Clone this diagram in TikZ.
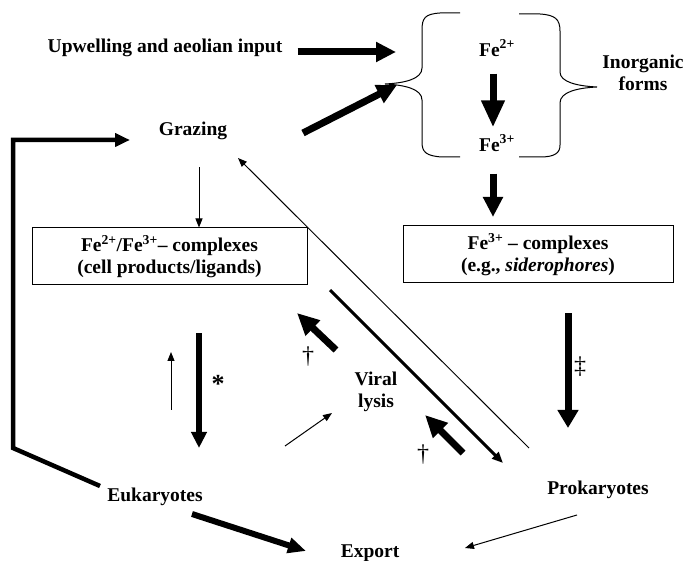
\documentclass[tikz,border=0pt]{standalone}
\usepackage{fontspec}
\setmainfont{Liberation Serif}
\usepackage{tikz}
\usetikzlibrary{arrows.meta}
\usetikzlibrary{positioning}
\tikzstyle{term} = [font={\fontsize{19.5}{21.5}\selectfont\bfseries}, align=center, inner sep=0pt]
\tikzstyle{pool} = [term, draw, line width=1pt, minimum height=57pt]
\tikzstyle{sign} = [font={\fontsize{24}{24}\selectfont}, inner sep=0pt]
\tikzstyle{flux} = [line width=7pt, -{Triangle[length=20pt,width=19pt]}]
\tikzstyle{trickle} = [line width=1pt, -{Triangle[length=9pt,width=7pt]}]
\tikzstyle{lysisline} = [line width=3pt, -{Triangle[length=11pt,width=9pt]}]
\tikzstyle{loopback} = [line width=4.5pt, -{Triangle[length=15pt,width=13pt]}]
\tikzstyle{brace} = [line width=1pt]

\begin{document}
\begin{tikzpicture}[x=1pt, y=-1pt]
        \useasboundingbox (0,0) rectangle (686,561);
        \node [term] (upwelling) at (165,48) {Upwelling and aeolian input};
        \node [term] (fe2) at (497,48) {Fe\textsuperscript{2+}};
        \node [term] (fe3) at (497,143) {Fe\textsuperscript{3+}};
        \node [term] (inorganic) at (643,73) {Inorganic\\forms};
        \node [term] (grazing) at (193,131) {Grazing};
        \node [pool, minimum width=275pt] (cellcx) at (169.5,256.5) {Fe\textsuperscript{2+}/Fe\textsuperscript{3+}– complexes\\(cell products/ligands)};
        \node [pool, minimum width=270pt] (sidero) at (538,254.5) {Fe\textsuperscript{3+} – complexes\\(e.g., \textit{siderophores})};
        \node [term] (viral) at (376,392) {Viral\\lysis};
        \node [term] (euk) at (155,497) {Eukaryotes};
        \node [term] (prok) at (598,490) {Prokaryotes};
        \node [term] (export) at (370,553) {Export};
        \node [sign] (dbl) at (580,367) {\textdaggerdbl};
        \node [sign] (dagA) at (308,357) {\textdagger};
        \node [sign] (dagB) at (423,455) {\textdagger};
        \node [font={\fontsize{26}{26}\selectfont\bfseries}, inner sep=0pt] (star) at (218,384) {*};
        \coordinate (inflow) at (396,52);
        \coordinate (grazeout) at (303,133);
        \coordinate (grazein) at (397,85);
        \coordinate (pooltop) at (493,217);
        \coordinate (prokin) at (568,428);
        \coordinate (eukin) at (199,448);
        \coordinate (upfoot) at (171,410);
        \coordinate (uptip) at (171,352);
        \coordinate (lysisout) at (336,350);
        \coordinate (lysisin) at (297,313);
        \coordinate (prokout) at (463,453);
        \coordinate (prokup) at (425,415);
        \coordinate (lysistop) at (330,290);
        \coordinate (lysisend) at (503,463);
        \coordinate (backfoot) at (529,448);
        \coordinate (backtip) at (238,158);
        \coordinate (eukfoot) at (285,446);
        \coordinate (viralin) at (332,413);
        \coordinate (eukout) at (192,514);
        \coordinate (exportin) at (306,551);
        \coordinate (prokfoot) at (577,515);
        \coordinate (exportright) at (465,548);
        \coordinate (eukcorner) at (100,486);
        \coordinate (grazein2) at (130,140);
        \draw [brace]
            (460,13) -- (440,13) .. controls (425,14) and (422,18) .. (422,30)
            -- (422,68) .. controls (422,79) and (405,83) .. (385,84)
            .. controls (405,85) and (422,89) .. (422,100)
            -- (422,142) .. controls (422,152) and (426,156) .. (442,157) -- (460,157);
        \draw [brace]
            (519,14) -- (540,14) .. controls (555,15) and (560,19) .. (560,31)
            -- (560,72) .. controls (560,82) and (577,86) .. (597,87)
            .. controls (577,88) and (560,92) .. (560,103)
            -- (560,145) .. controls (560,153) and (555,157) .. (540,157) -- (519,157);
        \draw [flux, shorten <=15pt] (upwelling.east |- inflow) -- (inflow);
        \draw [flux] (grazeout) -- (grazein);
        \draw [flux, -{Triangle[length=27pt,width=22pt]}, shorten <=17pt, shorten >=7pt]
            ([xshift=-4pt]fe2.south) -- ([xshift=-4pt]fe3.north);
        \draw [flux, shorten <=22pt] ([xshift=-4pt]fe3.south) -- (pooltop);
        \draw [flux, -{Triangle[length=18pt,width=20pt]}, shorten <=30pt] (sidero.south -| prokin) -- (prokin);
        \draw [flux, line width=6pt, -{Triangle[length=16pt,width=15pt]}, shorten <=48pt] (cellcx.south -| eukin) -- (eukin);
        \draw [trickle] (upfoot) -- (uptip);
        \draw [trickle, shorten <=27pt] ([xshift=6pt]grazing.south) -- ([xshift=6pt]grazing.south |- cellcx.north);
        \draw [flux, -{Triangle[length=22pt,width=20pt]}] (lysisout) -- (lysisin);
        \draw [flux, -{Triangle[length=22pt,width=20pt]}] (prokout) -- (prokup);
        \draw [lysisline] (lysistop) -- (lysisend);
        \draw [trickle] (backfoot) -- (backtip);
        \draw [trickle] (eukfoot) -- (viralin);
        \draw [flux, line width=6pt, -{Triangle[length=18pt,width=15pt]}] (eukout) -- (exportin);
        \draw [trickle] (prokfoot) -- (exportright);
        \draw [loopback] (eukcorner) -- (13,448) -- (13,140) -- (grazein2);
    \end{tikzpicture}
\end{document}
